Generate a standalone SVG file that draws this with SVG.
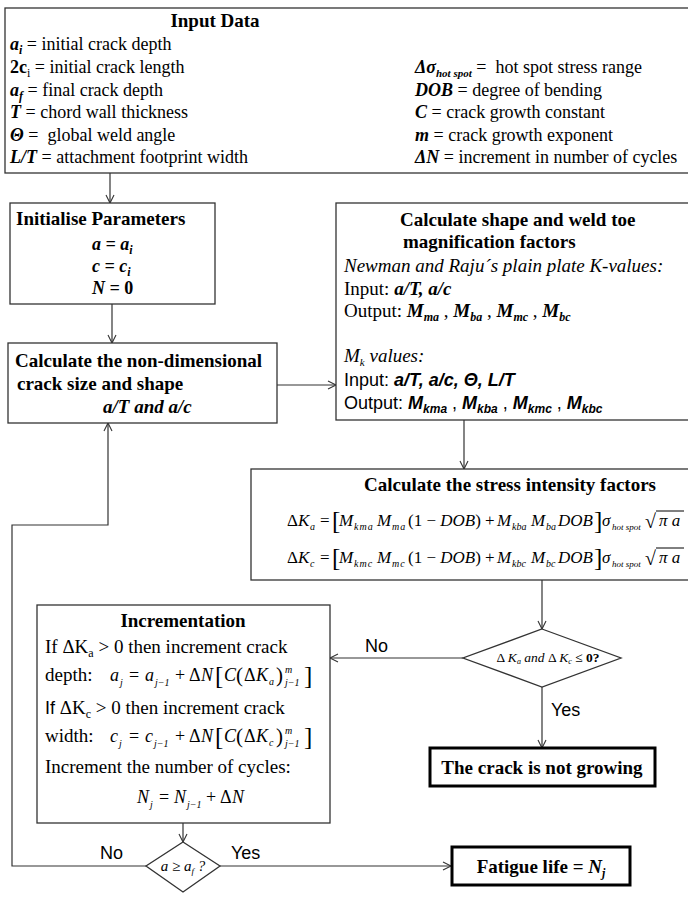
<svg xmlns="http://www.w3.org/2000/svg" width="688" height="902" viewBox="0 0 688 902">
<style>
.box{fill:#fff;stroke:#333;stroke-width:1.3}
.thick{fill:#fff;stroke:#000;stroke-width:3}
.sf{font-family:"Liberation Serif","Times New Roman",serif;fill:#000}
.ss{font-family:"Liberation Sans",Arial,sans-serif;fill:#000}
.b{font-weight:bold}
.i{font-style:italic}
.con{fill:none;stroke:#333;stroke-width:1.2}
</style>
<defs>
<marker id="arr" markerUnits="userSpaceOnUse" markerWidth="12" markerHeight="12" refX="9" refY="5" orient="auto">
<path d="M1,1 L9,5 L1,9" fill="none" stroke="#333" stroke-width="1.1"/>
</marker>
</defs>
<rect width="688" height="902" fill="#fff"/>

<g id="connectors">
<path class="con" d="M110,173 V203" marker-end="url(#arr)"/>
<path class="con" d="M112,304 V343" marker-end="url(#arr)"/>
<path class="con" d="M277,385 H336" marker-end="url(#arr)"/>
<path class="con" d="M464,420 V469" marker-end="url(#arr)"/>
<path class="con" d="M542,580 V629" marker-end="url(#arr)"/>
<path class="con" d="M463,658 H330" marker-end="url(#arr)"/>
<path class="con" d="M542,687 V748" marker-end="url(#arr)"/>
<path class="con" d="M183,823 V842" marker-end="url(#arr)"/>
<path class="con" d="M220,866 H451" marker-end="url(#arr)"/>
<path class="con" d="M146,866 H12 V525 H108 V423" marker-end="url(#arr)"/>
<text class="ss" font-size="18" x="365" y="652">No</text>
<text class="ss" font-size="18" x="551" y="716">Yes</text>
<text class="ss" font-size="18" x="100" y="859">No</text>
<text class="ss" font-size="18" x="231" y="859">Yes</text>
</g>

<g id="input-data">
<rect class="box" x="5" y="8" width="690" height="165"/>
<text class="sf b" font-size="19" x="215" y="27" text-anchor="middle">Input Data</text>
<text class="sf" font-size="18" x="10" y="50"><tspan class="b i">a</tspan><tspan class="b i" font-size="12" dy="4">i</tspan><tspan dy="-4"> = initial crack depth</tspan></text>
<text class="sf" font-size="18" x="10" y="73"><tspan class="b">2c</tspan><tspan font-size="12" dy="4">i</tspan><tspan dy="-4"> = initial crack length</tspan></text>
<text class="sf" font-size="18" x="10" y="96"><tspan class="b i">a</tspan><tspan class="b i" font-size="12" dy="4">f</tspan><tspan dy="-4"> = final crack depth</tspan></text>
<text class="sf" font-size="18" x="10" y="118"><tspan class="b i">T</tspan> = chord wall thickness</text>
<text class="sf" font-size="18" x="10" y="141" xml:space="preserve"><tspan class="b i">Θ</tspan> =  global weld angle</text>
<text class="sf" font-size="18" x="10" y="163"><tspan class="b i">L/T</tspan> = attachment footprint width</text>
<text class="sf" font-size="18" x="415" y="73" xml:space="preserve"><tspan class="b i">Δσ</tspan><tspan class="b i" font-size="11" dy="4">hot spot</tspan><tspan dy="-4"> =  hot spot stress range</tspan></text>
<text class="sf" font-size="18" x="415" y="96"><tspan class="b i">DOB</tspan> = degree of bending</text>
<text class="sf" font-size="18" x="415" y="118"><tspan class="b i">C</tspan> = crack growth constant</text>
<text class="sf" font-size="18" x="415" y="141"><tspan class="b i">m</tspan> = crack growth exponent</text>
<text class="sf" font-size="18" x="415" y="163"><tspan class="b i">ΔN</tspan> = increment in number of cycles</text>
</g>

<g id="initialise">
<rect class="box" x="10" y="203" width="205" height="101"/>
<text class="sf b" font-size="19" x="16" y="225">Initialise Parameters</text>
<text class="sf b i" font-size="18" x="92" y="250">a = a<tspan font-size="12" dy="4">i</tspan></text>
<text class="sf b i" font-size="18" x="92" y="272">c = c<tspan font-size="12" dy="4">i</tspan></text>
<text class="sf b i" font-size="18" x="92" y="294">N = <tspan font-style="normal">0</tspan></text>
</g>

<g id="nondimensional">
<rect class="box" x="8" y="343" width="269" height="80"/>
<text class="sf b" font-size="19" x="15" y="367">Calculate the non-dimensional</text>
<text class="sf b" font-size="19" x="17" y="390">crack size and shape</text>
<text class="sf b i" font-size="19" x="103" y="413">a/T and a/c</text>
</g>

<g id="shape-factors">
<rect class="box" x="336" y="203" width="360" height="217"/>
<text class="sf b" font-size="19" x="400" y="226">Calculate shape and weld toe</text>
<text class="sf b" font-size="19" x="403" y="248">magnification factors</text>
<text class="sf i" font-size="19" x="344" y="272">Newman and Raju´s plain plate K-values:</text>
<text class="sf" font-size="19" x="344" y="295">Input: <tspan class="b i">a/T, a/c</tspan></text>
<text class="sf" font-size="19" x="344" y="317">Output: <tspan class="b i">M</tspan><tspan class="b i" font-size="12" dy="4">ma</tspan><tspan dy="-4"> , </tspan><tspan class="b i">M</tspan><tspan class="b i" font-size="12" dy="4">ba</tspan><tspan dy="-4"> , </tspan><tspan class="b i">M</tspan><tspan class="b i" font-size="12" dy="4">mc</tspan><tspan dy="-4"> , </tspan><tspan class="b i">M</tspan><tspan class="b i" font-size="12" dy="4">bc</tspan></text>
<text class="sf i" font-size="19" x="344" y="362">M<tspan font-size="11" dy="4">k</tspan><tspan dy="-4"> values:</tspan></text>
<text class="ss" font-size="18" x="344" y="386">Input: <tspan class="b i">a/T, a/c, Θ, L/T</tspan></text>
<text class="ss" font-size="18" x="344" y="409">Output: <tspan class="b i">M</tspan><tspan class="b i" font-size="12" dy="4">kma</tspan><tspan dy="-4"> , </tspan><tspan class="b i">M</tspan><tspan class="b i" font-size="12" dy="4">kba</tspan><tspan dy="-4"> , </tspan><tspan class="b i">M</tspan><tspan class="b i" font-size="12" dy="4">kmc</tspan><tspan dy="-4"> , </tspan><tspan class="b i">M</tspan><tspan class="b i" font-size="12" dy="4">kbc</tspan></text>
</g>

<g id="stress-intensity">
<rect class="box" x="251" y="469" width="450" height="111"/>
<text class="sf b" font-size="19" x="510" y="491" text-anchor="middle">Calculate the stress intensity factors</text>
<text class="sf" font-size="17">
<tspan x="287" y="526">Δ</tspan><tspan class="i" x="298" y="526">K</tspan><tspan class="i" font-size="10" x="310" y="530">a</tspan>
<tspan x="320" y="526">=</tspan><tspan font-size="25" x="332" y="529">[</tspan>
<tspan class="i" x="339" y="526">M</tspan><tspan class="i" font-size="10" x="354" y="530" letter-spacing="1">kma</tspan>
<tspan class="i" x="377" y="526">M</tspan><tspan class="i" font-size="10" x="392" y="530" letter-spacing="1">ma</tspan>
<tspan x="408" y="526">(1 − <tspan class="i">DOB</tspan>)</tspan><tspan x="485" y="526">+</tspan>
<tspan class="i" x="497" y="526">M</tspan><tspan class="i" font-size="10" x="512" y="530">kba</tspan>
<tspan class="i" x="531" y="526">M</tspan><tspan class="i" font-size="10" x="546" y="530">ba</tspan>
<tspan class="i" x="558" y="526">DOB</tspan><tspan font-size="25" x="594" y="529">]</tspan>
<tspan class="i" x="602" y="526">σ</tspan><tspan class="i" font-size="9" x="612" y="530">hot spot</tspan>
<tspan font-size="20" x="645" y="528">√</tspan><tspan class="i" x="659" y="526">π a</tspan>
</text>
<line x1="656" y1="511" x2="684" y2="511" stroke="#000" stroke-width="1"/>
<text class="sf" font-size="17">
<tspan x="287" y="563">Δ</tspan><tspan class="i" x="298" y="563">K</tspan><tspan class="i" font-size="10" x="310" y="567">c</tspan>
<tspan x="320" y="563">=</tspan><tspan font-size="25" x="332" y="566">[</tspan>
<tspan class="i" x="339" y="563">M</tspan><tspan class="i" font-size="10" x="354" y="567" letter-spacing="1">kmc</tspan>
<tspan class="i" x="377" y="563">M</tspan><tspan class="i" font-size="10" x="392" y="567" letter-spacing="1">mc</tspan>
<tspan x="408" y="563">(1 − <tspan class="i">DOB</tspan>)</tspan><tspan x="485" y="563">+</tspan>
<tspan class="i" x="497" y="563">M</tspan><tspan class="i" font-size="10" x="512" y="567">kbc</tspan>
<tspan class="i" x="531" y="563">M</tspan><tspan class="i" font-size="10" x="546" y="567">bc</tspan>
<tspan class="i" x="558" y="563">DOB</tspan><tspan font-size="25" x="594" y="566">]</tspan>
<tspan class="i" x="602" y="563">σ</tspan><tspan class="i" font-size="9" x="612" y="567">hot spot</tspan>
<tspan font-size="20" x="645" y="565">√</tspan><tspan class="i" x="659" y="563">π a</tspan>
</text>
<line x1="656" y1="548" x2="684" y2="548" stroke="#000" stroke-width="1"/>
</g>

<g id="decision-growth">
<polygon class="box" points="542,629 621,658 542,687 463,658"/>
<text class="sf" font-size="13.5" x="548" y="662" text-anchor="middle">Δ <tspan class="i">K</tspan><tspan class="i" font-size="8" dy="2">a</tspan><tspan dy="-2" class="i"> and </tspan>Δ <tspan class="i">K</tspan><tspan class="i" font-size="8" dy="2">c</tspan><tspan dy="-2"> ≤ </tspan><tspan class="b">0?</tspan></text>
</g>

<g id="not-growing">
<rect class="thick" x="430" y="748" width="225" height="38"/>
<text class="sf b" font-size="19" x="542" y="774" text-anchor="middle">The crack is not growing</text>
</g>

<g id="incrementation">
<rect class="box" x="37" y="605" width="293" height="218"/>
<text class="sf b" font-size="19" x="183" y="627" text-anchor="middle">Incrementation</text>
<text class="sf" font-size="19" x="45" y="653">If ΔK<tspan font-size="12" dy="4">a</tspan><tspan dy="-4"> &gt; 0 then increment crack</tspan></text>
<text class="sf" font-size="19" x="45" y="681">depth:</text>
<text class="sf" font-size="18">
<tspan class="i" x="110" y="681">a</tspan><tspan class="i" font-size="10" x="120" y="686">j</tspan>
<tspan x="129" y="681">=</tspan>
<tspan class="i" x="145" y="681">a</tspan><tspan class="i" font-size="10" x="155" y="686">j−1</tspan>
<tspan x="175" y="681">+</tspan><tspan x="189" y="681">Δ</tspan><tspan class="i" x="201" y="681">N</tspan>
<tspan font-size="25" x="215" y="684">[</tspan><tspan class="i" x="224" y="681">C</tspan><tspan font-size="21" x="236" y="682">(</tspan>
<tspan x="244" y="681">Δ</tspan><tspan class="i" x="256" y="681">K</tspan><tspan class="i" font-size="10" x="269" y="685">a</tspan>
<tspan font-size="21" x="276" y="682">)</tspan><tspan class="i" font-size="10" x="285" y="673">m</tspan><tspan class="i" font-size="10" x="285" y="686">j−1</tspan>
<tspan font-size="25" x="304" y="684">]</tspan>
</text>
<text class="sf" font-size="19" x="45" y="714"><tspan class="ss" font-size="18">If</tspan> ΔK<tspan font-size="12" dy="4">c</tspan><tspan dy="-4"> &gt; 0 then increment crack</tspan></text>
<text class="sf" font-size="19" x="45" y="742">width:</text>
<text class="sf" font-size="18">
<tspan class="i" x="110" y="742">c</tspan><tspan class="i" font-size="10" x="119" y="747">j</tspan>
<tspan x="129" y="742">=</tspan>
<tspan class="i" x="145" y="742">c</tspan><tspan class="i" font-size="10" x="154" y="747">j−1</tspan>
<tspan x="175" y="742">+</tspan><tspan x="189" y="742">Δ</tspan><tspan class="i" x="201" y="742">N</tspan>
<tspan font-size="25" x="215" y="745">[</tspan><tspan class="i" x="224" y="742">C</tspan><tspan font-size="21" x="236" y="743">(</tspan>
<tspan x="244" y="742">Δ</tspan><tspan class="i" x="256" y="742">K</tspan><tspan class="i" font-size="10" x="269" y="746">c</tspan>
<tspan font-size="21" x="276" y="743">)</tspan><tspan class="i" font-size="10" x="285" y="734">m</tspan><tspan class="i" font-size="10" x="285" y="747">j−1</tspan>
<tspan font-size="25" x="304" y="745">]</tspan>
</text>
<text class="sf" font-size="19" x="45" y="773">Increment the number of cycles:</text>
<text class="sf" font-size="18">
<tspan class="i" x="137" y="803">N</tspan><tspan class="i" font-size="10" x="150" y="808">j</tspan>
<tspan x="159" y="803">=</tspan>
<tspan class="i" x="174" y="803">N</tspan><tspan class="i" font-size="10" x="187" y="808">j−1</tspan>
<tspan x="206" y="803">+</tspan><tspan x="220" y="803">Δ</tspan><tspan class="i" x="232" y="803">N</tspan>
</text>
</g>

<g id="decision-final">
<polygon class="box" points="183,842 220,866 183,892 146,866"/>
<text class="sf i" font-size="15" x="183" y="871" text-anchor="middle">a ≥ a<tspan font-size="9" dy="3">f</tspan><tspan dy="-3"> ?</tspan></text>
</g>

<g id="fatigue-life">
<rect class="thick" x="452" y="847" width="178" height="38"/>
<text class="sf b" font-size="19" x="541" y="873" text-anchor="middle">Fatigue life = <tspan class="i">N</tspan><tspan class="i" font-size="12" dy="4">j</tspan></text>
</g>
</svg>
